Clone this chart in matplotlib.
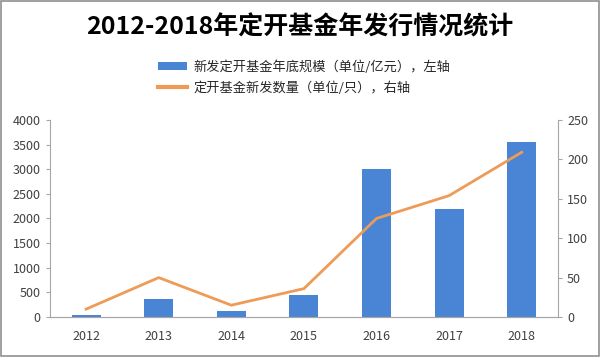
import matplotlib.pyplot as plt
import numpy as np

plt.rcParams['font.family'] = ['Noto Sans CJK SC', 'DejaVu Sans']
plt.rcParams['axes.unicode_minus'] = False

# 数据
years = ['2012', '2013', '2014', '2015', '2016', '2017', '2018']
scale = [45, 370, 130, 440, 3000, 2200, 3550]      # 新发定开基金年底规模（亿元）
count = [10, 50, 15, 36, 125, 154, 209]            # 定开基金新发数量（只）

bar_color = '#4A84D4'
line_color = '#ED9B56'
grey = '#A6A6A6'

fig = plt.figure(figsize=(6, 3.57), dpi=100)
ax = fig.add_axes([0.083, 0.112, 0.847, 0.552])
x = np.arange(len(years))

bars = ax.bar(x, scale, width=0.4, color=bar_color, label='新发定开基金年底规模（单位/亿元），左轴', zorder=2)
ax.set_ylim(0, 4000)
ax.set_yticks(np.arange(0, 4001, 500))
ax.set_xlim(-0.5, len(years) - 0.5)
ax.set_xticks(x)
ax.set_xticklabels(years)

ax2 = ax.twinx()
line, = ax2.plot(x, count, color=line_color, lw=2, label='定开基金新发数量（单位/只），右轴', zorder=3)
ax2.set_ylim(0, 250)
ax2.set_yticks(np.arange(0, 251, 50))

for a in (ax, ax2):
    a.spines['top'].set_visible(False)
    for s in ('left', 'right', 'bottom'):
        a.spines[s].set_color(grey)
    a.tick_params(axis='y', labelsize=9, colors=grey, labelcolor='#404040', length=3)
    a.tick_params(axis='x', labelsize=9, length=0, labelcolor='#404040', pad=9)
ax.spines['right'].set_visible(False)
ax2.spines['left'].set_visible(False)

fig.text(0.5, 0.923, '2012-2018年定开基金年发行情况统计', ha='center', va='center',
         fontsize=18, fontweight='bold', color='black')
leg = fig.legend(handles=[bars, line], loc='center', bbox_to_anchor=(0.507, 0.783),
                 frameon=False, fontsize=9.5, handlelength=2.2, handletextpad=0.45,
                 labelspacing=0.55, handleheight=0.55)
leg.get_lines()[0].set_linewidth(3) if leg.get_lines() else None
for t in leg.get_texts():
    t.set_color('#262626')

# 外边框
fig.patches.append(plt.Rectangle((0.002, 0.003), 0.996, 0.994, transform=fig.transFigure,
                                 fill=False, edgecolor='#909090', lw=1.2))

plt.savefig('out.png', dpi=100)
